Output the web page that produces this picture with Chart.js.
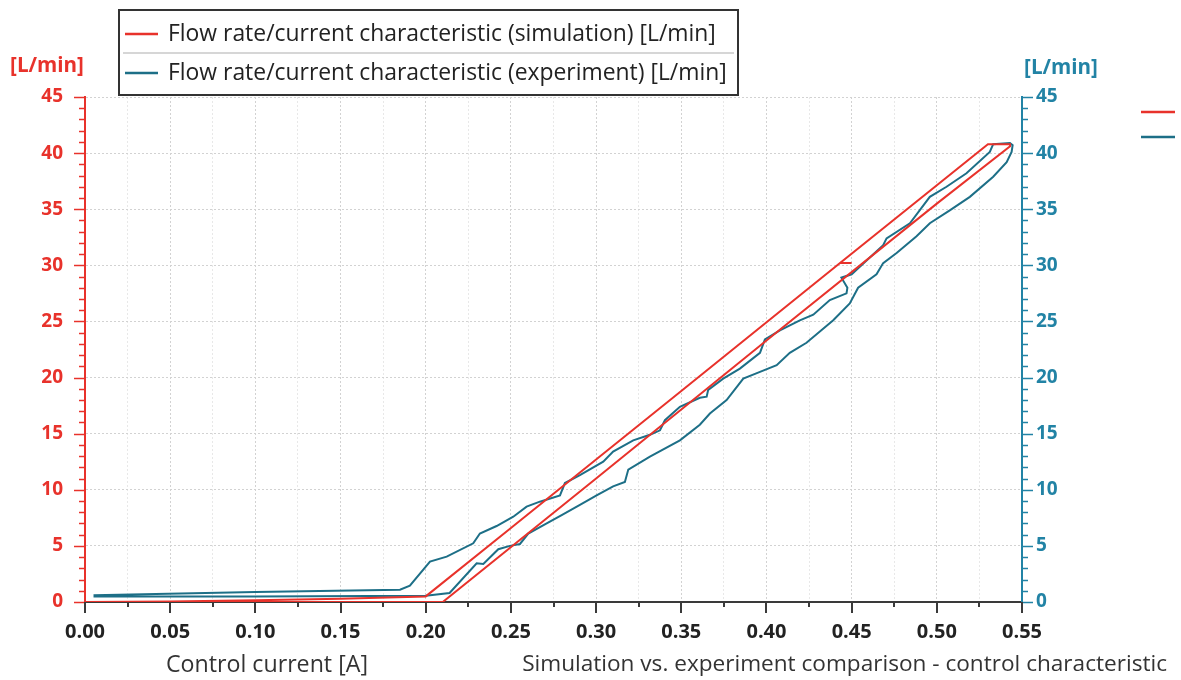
<!DOCTYPE html>
<html><head><meta charset="utf-8">
<script src="https://cdn.jsdelivr.net/npm/chart.js@4/dist/chart.umd.min.js"></script>
<style>html,body{margin:0;padding:0;background:#fff;}#wrap{width:1181px;height:680px;position:relative;}</style>
</head><body><div id="wrap"><canvas id="c" width="1181" height="680" style="width:1181px;height:680px"></canvas></div>
<script>
// ---- data ----
const seriesNames = ['Flow rate/current characteristic (simulation) [L/min]', 'Flow rate/current characteristic (experiment) [L/min]'];
const xTitle = 'Control current [A]';
const chartTitle = 'Simulation vs. experiment comparison - control characteristic';
const yUnit = '[L/min]';
const xMin = 0, xMax = 0.55, xMajor = 0.05, xMinor = 0.025;
const yMin = 0, yMax = 45, yMajor = 5, yMinor = 1;

const simCurrent = [0.000, 0.100, 0.210, 0.300, 0.400, 0.500, 0.543, 0.543, 0.530, 0.4432, 0.4500, 0.4432, 0.350, 0.250, 0.200, 0.150, 0.100, 0.050, 0.000];
const simFlow    = [0.0,   0.0,   0.0,   11.0,  23.3,  35.5,  40.6,  40.8,  40.8,  30.2,   30.2,   30.2,   18.8,  6.6,   0.5,   0.3,   0.15,  0.05,  0.0];

const expCurrent = [0.005, 0.100, 0.200, 0.214, 0.2299, 0.2338, 0.2426, 0.2494, 0.2553, 0.2602, 0.271, 0.2798, 0.2905, 0.3003, 0.310, 0.3169, 0.3189, 0.3316, 0.3492, 0.3609, 0.3668, 0.3766, 0.3864, 0.3962, 0.406, 0.4137, 0.4235, 0.4392, 0.4489, 0.4538, 0.4646, 0.4685, 0.4764, 0.4881, 0.4959, 0.5076, 0.5194, 0.5331, 0.541, 0.5439, 0.5445, 0.5429, 0.5331, 0.5311, 0.5174, 0.5057, 0.4959, 0.4842, 0.4705, 0.4685, 0.4500, 0.4440, 0.4475, 0.4470, 0.4372, 0.4275, 0.4196, 0.4079, 0.3991, 0.3962, 0.3844, 0.3746, 0.3658, 0.3649, 0.3609, 0.3492, 0.3404, 0.3375, 0.3316, 0.3218, 0.310, 0.3042, 0.2905, 0.2817, 0.2788, 0.267, 0.2592, 0.2514, 0.2416, 0.2318, 0.2279, 0.2123, 0.2025, 0.1907, 0.1849, 0.100, 0.005];
const expFlow    = [0.5,   0.5,   0.55,  0.8,   3.45,   3.39,   4.7,    5.0,    5.17,   6.1,    7.0,   7.75,   8.65,   9.5,    10.3,  10.7,   11.8,   12.95,  14.4,   15.8,   16.8,   18.0,   19.9,   20.5,   21.1,  22.2,   23.1,   25.1,   26.6,   28.0,   29.2,   30.2,   31.1,   32.6,   33.75,  34.9,   36.1,   37.9,   39.2,  40.1,   40.7,   40.9,   40.8,   40.1,   38.2,   37.0,   36.1,   33.75,  32.4,   31.8,   29.2,   28.9,   28.0,   27.5,   26.9,   25.6,   25.1,   24.2,   23.4,   22.2,   20.8,   19.9,   18.9,   18.3,   18.2,   17.4,   16.2,   15.3,   14.9,   14.4,   13.4,  12.5,   11.3,   10.6,   9.5,    8.94,  8.5,    7.6,    6.77,   6.1,    5.23,   4.04,   3.6,    1.45,   1.1,    0.9,   0.6];

// ---- styles ----
const RED = '#e8322b', TEAL = '#1d6f87', TEAL_AX = '#2283a5', AXIS_DARK = '#3a3a3a';
const FONT = '"Open Sans", "DejaVu Sans", sans-serif';

const toPts = (xs, ys) => xs.map((x, i) => ({x, y: ys[i]}));
const isMajor = (v, step) => Math.abs(v / step - Math.round(v / step)) < 1e-6;

function fitFont(ctx, text, width, weight) {
  ctx.font = weight + ' 100px ' + FONT;
  const w = ctx.measureText(text).width;
  return 100 * width / w;
}

const decor = {
  id: 'decor',
  afterDraw(chart) {
    const ctx = chart.ctx, ca = chart.chartArea;
    const sx = chart.scales.x, sy = chart.scales.y, sy2 = chart.scales.y2;
    ctx.save();
    ctx.lineWidth = 1.5;
    ctx.strokeStyle = RED;
    sy.ticks.forEach(t => { const p = Math.round(sy.getPixelForValue(t.value)) + 0.5; const l = isMajor(t.value, yMajor) ? 11 : 6;
      ctx.beginPath(); ctx.moveTo(ca.left - l, p); ctx.lineTo(ca.left, p); ctx.stroke(); });
    ctx.strokeStyle = TEAL_AX;
    sy2.ticks.forEach(t => { const p = Math.round(sy2.getPixelForValue(t.value)) + 0.5; const l = isMajor(t.value, yMajor) ? 11 : 6;
      ctx.beginPath(); ctx.moveTo(ca.right, p); ctx.lineTo(ca.right + l, p); ctx.stroke(); });
    ctx.strokeStyle = AXIS_DARK; ctx.lineWidth = 2;
    sx.ticks.forEach(t => { const p = Math.round(sx.getPixelForValue(t.value)); const l = isMajor(t.value, xMajor) ? 11 : 5;
      ctx.beginPath(); ctx.moveTo(p, ca.bottom); ctx.lineTo(p, ca.bottom + l); ctx.stroke(); });

    ctx.textBaseline = 'middle'; ctx.textAlign = 'center';
    ctx.font = 'bold ' + fitFont(ctx, yUnit, 74, 'bold').toFixed(1) + 'px ' + FONT;
    ctx.fillStyle = RED; ctx.fillText(yUnit, 47, 66);
    ctx.fillStyle = TEAL_AX; ctx.fillText(yUnit, 1061, 68);

    ctx.fillStyle = '#333';
    let fs = fitFont(ctx, xTitle, 202, 'normal');
    ctx.font = fs.toFixed(1) + 'px ' + FONT; ctx.textAlign = 'left';
    ctx.fillText(xTitle, 166, 665);
    fs = fitFont(ctx, chartTitle, 646, 'normal');
    ctx.font = fs.toFixed(1) + 'px ' + FONT; ctx.textAlign = 'right';
    ctx.fillText(chartTitle, 1167, 665);

    const ds = chart.data.datasets;
    const bx = 119, by = 10, bw = 619, bh = 85;
    ctx.fillStyle = '#fff'; ctx.fillRect(bx, by, bw, bh);
    ctx.strokeStyle = '#333'; ctx.lineWidth = 2; ctx.strokeRect(bx, by, bw, bh);
    ctx.strokeStyle = '#c8c8c8'; ctx.lineWidth = 1.5;
    ctx.beginPath(); ctx.moveTo(bx + 4, by + 43); ctx.lineTo(bx + bw - 4, by + 43); ctx.stroke();
    fs = fitFont(ctx, ds[0].label, 548, 'normal');
    ctx.font = fs.toFixed(1) + 'px ' + FONT; ctx.textAlign = 'left'; ctx.fillStyle = '#222';
    const rows = [by + 24, by + 63];
    ds.forEach((d, i) => {
      ctx.strokeStyle = d.borderColor; ctx.lineWidth = 2.5;
      ctx.beginPath(); ctx.moveTo(bx + 6, rows[i]); ctx.lineTo(bx + 39, rows[i]); ctx.stroke();
      ctx.fillText(d.label, 168, rows[i]);
    });
    const mrows = [112, 137];
    ds.forEach((d, i) => {
      ctx.strokeStyle = d.borderColor; ctx.lineWidth = 2.5;
      ctx.beginPath(); ctx.moveTo(1141, mrows[i]); ctx.lineTo(1175, mrows[i]); ctx.stroke();
    });
    ctx.restore();
  }
};

const gridX = {
  color: c => isMajor(c.tick.value, xMajor) ? '#d2d2d2' : '#e8e8e8',
  lineWidth: 1, drawTicks: false
};
const gridY = {
  color: c => isMajor(c.tick.value, yMajor) ? '#d2d2d2' : 'rgba(0,0,0,0)',
  lineWidth: 1, drawTicks: false
};

new Chart(document.getElementById('c'), {
  type: 'line',
  data: {
    datasets: [
      { label: seriesNames[0], data: toPts(simCurrent, simFlow), borderColor: RED, borderWidth: 2, pointRadius: 0, fill: false, tension: 0, yAxisID: 'y' },
      { label: seriesNames[1], data: toPts(expCurrent, expFlow), borderColor: TEAL, borderWidth: 2, pointRadius: 0, fill: false, tension: 0, yAxisID: 'y2' }
    ]
  },
  options: {
    responsive: false, maintainAspectRatio: false, animation: false, devicePixelRatio: 1,
    layout: { padding: { top: 97, left: 0, right: 0, bottom: 0 } },
    plugins: { legend: { display: false }, tooltip: { enabled: false } },
    scales: {
      x: {
        type: 'linear', min: xMin, max: xMax,
        afterFit: s => { s.height = 78; },
        grid: gridX, border: { display: true, color: AXIS_DARK, width: 2, dash: [2, 2] },
        ticks: { stepSize: xMinor, autoSkip: false, maxRotation: 0, padding: 18, color: '#222',
          font: { family: FONT, size: 20, weight: 'bold' },
          callback: v => isMajor(v, xMajor) ? v.toFixed(2) : '' }
      },
      y: {
        position: 'left', min: yMin, max: yMax,
        afterFit: s => { s.width = 85; },
        grid: gridY, border: { display: true, color: RED, width: 2, dash: [2, 2] },
        ticks: { stepSize: yMinor, autoSkip: false, padding: 22, color: RED,
          font: { family: FONT, size: 19, weight: 'bold' },
          callback: v => isMajor(v, yMajor) ? String(v) : '' }
      },
      y2: {
        position: 'right', min: yMin, max: yMax,
        afterFit: s => { s.width = 159; },
        grid: { display: false, drawTicks: false }, border: { display: true, color: TEAL_AX, width: 2 },
        ticks: { stepSize: yMinor, autoSkip: false, padding: 14, color: TEAL_AX,
          font: { family: FONT, size: 19, weight: 'bold' },
          callback: v => isMajor(v, yMajor) ? String(v) : '' }
      }
    }
  },
  plugins: [decor]
});
</script></body></html>
